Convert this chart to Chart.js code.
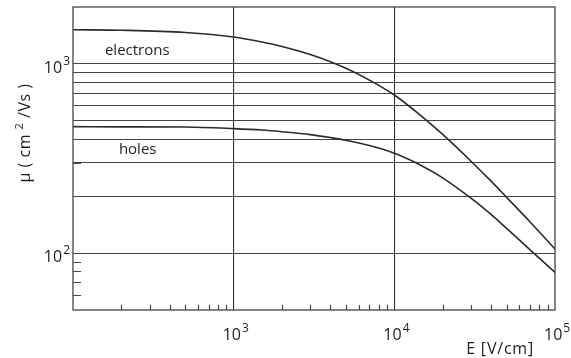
<!DOCTYPE html>
<html lang="en">
<head>
<meta charset="UTF-8">
<title>Mobility vs field</title>
<script src="https://cdn.jsdelivr.net/npm/chart.js"></script>
<style>
  html, body { margin: 0; padding: 0; background: #fff; }
  .wrap { width: 571px; height: 358px; position: relative; }
</style>
</head>
<body>
<div class="wrap"><canvas id="mobChart"></canvas></div>
<script>
  // E field in V/cm, mobility in cm2/Vs
  const fieldValues = [100, 200, 500, 1000, 1500, 2000, 3000, 4000, 5000, 7000,
    10000, 15000, 20000, 30000, 40000, 50000, 70000, 100000];
  const electronMobility = [1517, 1507, 1466, 1387, 1305, 1237, 1121, 1027, 948, 821,
    685, 524, 424, 306, 240, 197, 146, 105];
  const holeMobility = [466, 465, 464, 455, 447, 438, 423, 408, 395, 370,
    337, 288, 250, 195, 160, 135, 104, 79];

  const xTickValues = [1000, 10000, 100000];
  const xTickExponents = ['3', '4', '5'];
  const yTickValues = [100, 1000];
  const yTickExponents = ['2', '3'];

  const xGridValues = [1000, 10000];
  const yGridValues = [100, 200, 300, 400, 500, 600, 700, 800, 900, 1000];
  const xMinorTicks = [200, 300, 400, 500, 600, 700, 800, 900,
    2000, 3000, 4000, 5000, 6000, 7000, 8000, 9000,
    20000, 30000, 40000, 50000, 60000, 70000, 80000, 90000];
  const yMinorTicks = [60, 70, 80, 90, 300, 700, 800];

  const curveLabels = ['electrons', 'holes'];
  const labelField = [158, 193];
  const labelMobility = [1115, 335];

  const FONT = '"Open Sans", "Noto Sans", sans-serif';
  const INK = '#1e1e24';

  function drawPower(c, x, y, exp, align) {
    // "10" with a raised exponent; x is left edge or right edge
    c.font = '16px ' + FONT;
    const baseW = c.measureText('10').width;
    c.font = '12px ' + FONT;
    const expW = c.measureText(exp).width;
    let left = align === 'right' ? x - baseW - expW - 1 : x;
    c.textAlign = 'left';
    c.textBaseline = 'alphabetic';
    c.font = '16px ' + FONT;
    c.fillText('10', left, y);
    c.font = '12px ' + FONT;
    c.fillText(exp, left + baseW + 1, y - 8);
  }

  const axisDecor = {
    id: 'axisDecor',
    afterDraw(chart) {
      const c = chart.ctx;
      const xs = chart.scales.x;
      const ys = chart.scales.y;
      const a = chart.chartArea;
      c.save();

      // frame
      c.strokeStyle = '#444';
      c.lineWidth = 1.3;
      c.strokeRect(a.left, a.top, a.right - a.left, a.bottom - a.top);

      // inward minor ticks
      c.lineWidth = 1.2;
      c.beginPath();
      xMinorTicks.forEach(v => {
        const px = Math.round(xs.getPixelForValue(v)) + 0.5;
        c.moveTo(px, a.bottom);
        c.lineTo(px, a.bottom - 5);
      });
      yMinorTicks.forEach(v => {
        const py = Math.round(ys.getPixelForValue(v)) + 0.5;
        c.moveTo(a.left, py);
        c.lineTo(a.left + 8, py);
      });
      c.stroke();

      // tick labels
      c.fillStyle = INK;
      xTickValues.forEach((v, i) => {
        drawPower(c, xs.getPixelForValue(v) - 11, 340, xTickExponents[i], 'left');
      });
      yTickValues.forEach((v, i) => {
        drawPower(c, 70, ys.getPixelForValue(v) + 9, yTickExponents[i], 'right');
      });

      // x title
      c.font = '16px ' + FONT;
      c.letterSpacing = '0.8px';
      c.textAlign = 'right';
      c.fillText('E [V/cm]', 534, 354);

      // y title, rotated
      c.letterSpacing = '0.5px';
      c.translate(30, 133);
      c.rotate(-Math.PI / 2);
      const p1 = 'μ ( cm ', p2 = '2', p3 = ' /Vs )';
      c.font = '16px ' + FONT;
      const w1 = c.measureText(p1).width, w3 = c.measureText(p3).width;
      c.font = '11px ' + FONT;
      const w2 = c.measureText(p2).width;
      let sx = -(w1 + w2 + w3) / 2;
      c.textAlign = 'left';
      c.font = '16px ' + FONT;
      c.fillText(p1, sx, 0);
      c.font = '11px ' + FONT;
      c.fillText(p2, sx + w1, -7);
      c.font = '16px ' + FONT;
      c.fillText(p3, sx + w1 + w2, 0);
      c.restore();

      // curve labels
      c.save();
      c.fillStyle = INK;
      c.font = '15px ' + FONT;
      c.textAlign = 'left';
      curveLabels.forEach((t, i) => {
        c.fillText(t, xs.getPixelForValue(labelField[i]), ys.getPixelForValue(labelMobility[i]));
      });
      c.restore();
    }
  };

  const lineStyle = {
    borderColor: '#2b2b2b',
    borderWidth: 1.6,
    pointRadius: 0,
    cubicInterpolationMode: 'monotone',
    fill: false
  };

  new Chart(document.getElementById('mobChart'), {
    type: 'line',
    data: {
      datasets: [
        Object.assign({ label: 'electrons', data: fieldValues.map((e, i) => ({ x: e, y: electronMobility[i] })) }, lineStyle),
        Object.assign({ label: 'holes', data: fieldValues.map((e, i) => ({ x: e, y: holeMobility[i] })) }, lineStyle)
      ]
    },
    options: {
      responsive: true,
      maintainAspectRatio: false,
      animation: false,
      layout: { padding: { top: 7, right: 16, left: 0, bottom: 0 } },
      plugins: { legend: { display: false }, tooltip: { enabled: false } },
      scales: {
        x: {
          type: 'logarithmic',
          min: 100,
          max: 100000,
          afterBuildTicks: s => { s.ticks = xGridValues.map(v => ({ value: v })); },
          afterFit: s => { s.height = 48; },
          ticks: { display: false },
          grid: { color: '#333', lineWidth: 1.1, drawTicks: false },
          border: { display: false }
        },
        y: {
          type: 'logarithmic',
          min: 50,
          max: 2000,
          afterBuildTicks: s => { s.ticks = yGridValues.map(v => ({ value: v })); },
          afterFit: s => { s.width = 73; },
          ticks: { display: false },
          grid: { color: '#444', lineWidth: 1.1, drawTicks: false },
          border: { display: false }
        }
      }
    },
    plugins: [axisDecor]
  });
</script>
</body>
</html>
